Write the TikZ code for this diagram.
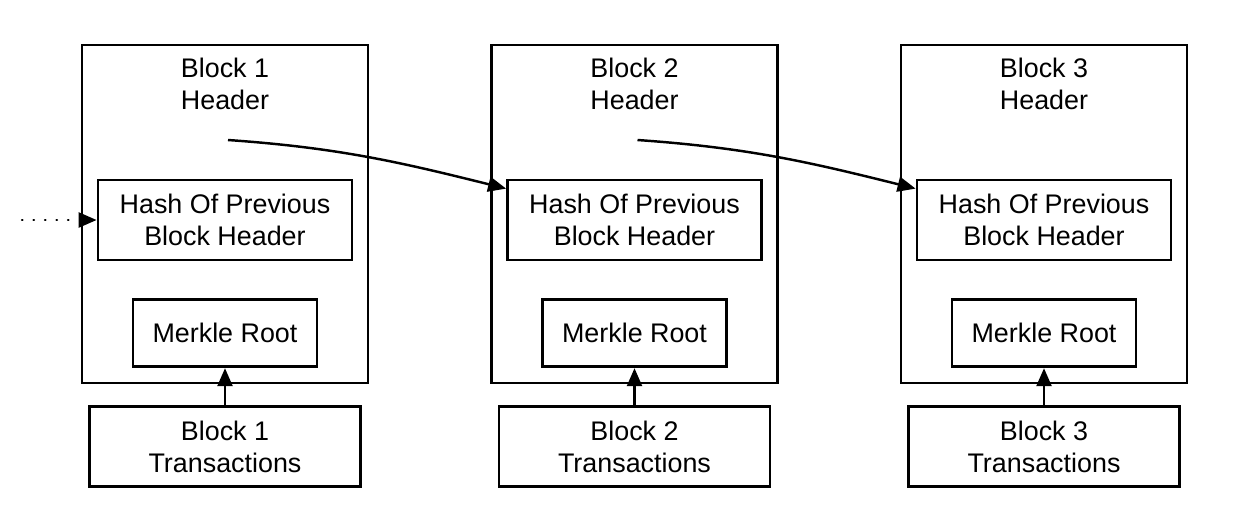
\documentclass[tikz,border=0pt]{standalone}
\usepackage{fontspec}
\setmainfont{Liberation Sans}
\usetikzlibrary{positioning,arrows.meta}

\begin{document}
\begin{tikzpicture}[
    x=0.02cm, y=-0.02cm,
    font=\fontsize{15.3}{18}\selectfont,
    node distance=0.74cm,
    % Node styles
    box/.style={draw, line width=1.6pt, inner sep=0pt, align=center},
    hdrbox/.style={box, minimum width=5.72cm, minimum height=6.76cm},
    hashbox/.style={box, minimum width=5.08cm, minimum height=1.6cm},
    rootbox/.style={box, minimum width=3.68cm, minimum height=1.34cm},
    txbox/.style={box, minimum width=5.42cm, minimum height=1.6cm},
    title/.style={align=center, inner sep=0pt},
    arrow/.style={-{Triangle[length=0.36cm,width=0.3cm]}, line width=1.4pt},
]
    \useasboundingbox (0,0) rectangle (1244,512);

    % one column per block
    \foreach \i/\x in {1/225,2/634.5,3/1044} {
        \node[hdrbox] (hdr\i) at (\x,214) {};
        \node[title] (title\i) at (\x,84) {Block \i\\Header};
        \node[hashbox] (hash\i) at (\x,220) {Hash Of Previous\\Block Header};
        \node[rootbox, below=of hash\i] (root\i) {Merkle Root};
        \node[txbox, below=of root\i] (tx\i) {Block \i\\Transactions};
        \coordinate (src\i) at (\x+3,140);
        \draw[arrow] (tx\i) -- (root\i);
    }

    % links between headers
    \coordinate (prev) at (22,220);
    \draw[arrow, line cap=round, dash pattern=on 0.01cm off 0.22cm] (prev) -- (hash1.west);
    \draw[arrow] (src1) to[out=-4,in=166] ([yshift=-0.2cm]hash2.north west);
    \draw[arrow] (src2) to[out=-4,in=166] ([yshift=-0.2cm]hash3.north west);

\end{tikzpicture}
\end{document}
